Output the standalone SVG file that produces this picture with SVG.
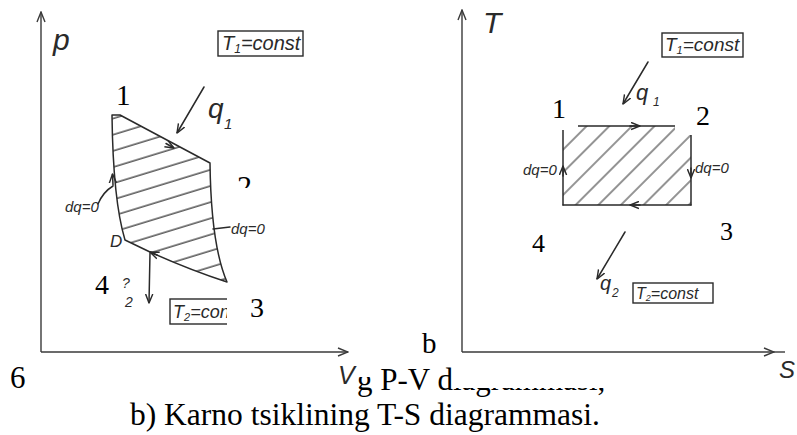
<svg xmlns="http://www.w3.org/2000/svg" width="797" height="435" viewBox="0 0 797 435">
<style>
.ln{fill:none;stroke:#2a2a2a;stroke-width:1.5;stroke-linecap:round;stroke-linejoin:round}
.ax{fill:none;stroke:#3a3a3a;stroke-width:1.4}
.hw{font-family:"Liberation Sans",Arial,sans-serif;font-style:italic;fill:#2a2a2a}
.tm{font-family:"Liberation Serif","Times New Roman",serif;fill:#000}
.box{fill:none;stroke:#2a2a2a;stroke-width:1.4}
.patch{fill:#fff;stroke:none}
</style>
<defs>
<marker id="ah" viewBox="0 0 10 10" refX="10" refY="5" markerWidth="9" markerHeight="9" markerUnits="userSpaceOnUse" orient="auto">
<path d="M0,1 L10,5 L0,9" fill="none" stroke="#2a2a2a" stroke-width="1.6"/>
</marker>
<marker id="axh" viewBox="0 0 10 10" refX="10" refY="5" markerWidth="12" markerHeight="10" markerUnits="userSpaceOnUse" orient="auto">
<path d="M0,1 L10,5 L0,9" fill="none" stroke="#3a3a3a" stroke-width="1.4"/>
</marker>
<pattern id="hatchL" patternUnits="userSpaceOnUse" width="60" height="15.5" patternTransform="rotate(-17)">
<line x1="0" y1="7" x2="60" y2="7" stroke="#2a2a2a" stroke-width="1.2"/>
</pattern>
<pattern id="hatchR" patternUnits="userSpaceOnUse" width="60" height="16" patternTransform="rotate(-45)">
<line x1="0" y1="8" x2="60" y2="8" stroke="#2a2a2a" stroke-width="1.2"/>
</pattern>
<clipPath id="cycL"><path d="M112,115 L120,115 L210,163 Q211,245 227,282 Q190,270 150,252 L125,240 Q113,200 112,115 Z"/></clipPath>
<clipPath id="clip2"><rect x="225" y="150" width="40" height="38"/></clipPath>
<clipPath id="clipT2"><rect x="165" y="290" width="62" height="40"/></clipPath>
</defs>
<rect width="797" height="435" fill="#fff"/>

<!-- LEFT PANEL: P-V -->
<g id="axes-pv">
<line class="ax" x1="41" y1="352" x2="41" y2="12" marker-end="url(#axh)"/>
<line class="ax" x1="41" y1="352" x2="348" y2="352" marker-end="url(#axh)"/>
<text class="hw" x="53" y="50" font-size="30">p</text>
<text class="hw" x="338" y="384" font-size="25">V</text>
</g>
<g id="cycle-pv">
<rect x="100" y="100" width="140" height="190" fill="url(#hatchL)" clip-path="url(#cycL)"/>
<path class="ln" d="M112,115 L120,115 L210,163 Q211,245 227,282 Q190,270 150,252 L125,240 Q113,200 112,115"/>
</g>
<g id="connectors-pv">
<path class="ln" d="M166,143.5 L174,148" marker-end="url(#ah)"/>
<path class="ln" d="M113,185 L112.5,174" marker-end="url(#ah)"/>
<path class="ln" d="M157,255 L150,252" marker-end="url(#ah)"/>
<line class="ln" x1="204" y1="87" x2="177" y2="133" marker-end="url(#ah)"/>
<line class="ln" x1="150" y1="253" x2="149" y2="303" marker-end="url(#ah)"/>
<path class="ln" d="M98,204 Q103,192 113,186"/>
<line class="ln" x1="213" y1="229" x2="230" y2="227"/>
</g>
<g id="box-T1-pv">
<rect class="box" x="218" y="31" width="85" height="25"/>
<text class="hw" x="222" y="50" font-size="20">T<tspan font-size="12" dy="3">1</tspan><tspan dy="-3">=const</tspan></text>
</g>
<g id="box-T2-pv" clip-path="url(#clipT2)">
<rect class="box" x="170" y="299" width="70" height="25"/>
<text class="hw" x="173" y="318" font-size="18">T<tspan font-size="11" dy="3">2</tspan><tspan dy="-3">=con</tspan></text>
</g>
<g id="labels-pv">
<text class="hw" x="208" y="118" font-size="28">q</text>
<text class="hw" x="224" y="129" font-size="15">1</text>
<text class="hw" x="65" y="212" font-size="15">dq=0</text>
<text class="hw" x="110" y="247" font-size="17">D</text>
<text class="hw" x="231" y="234" font-size="15">dq=0</text>
<text class="hw" x="122" y="288" font-size="14">?</text>
<text class="hw" x="125" y="307" font-size="14">2</text>
</g>
<g id="node-1-pv"><text class="tm" x="116" y="105" font-size="29">1</text></g>
<g id="node-2-pv" clip-path="url(#clip2)"><text class="tm" x="237" y="196" font-size="30">2</text></g>
<g id="node-4-pv"><text class="tm" x="95" y="294" font-size="28">4</text></g>
<g id="node-3-pv"><text class="tm" x="250" y="317" font-size="28">3</text></g>

<!-- RIGHT PANEL: T-S -->
<g id="axes-ts">
<line class="ax" x1="462" y1="352" x2="462" y2="10" marker-end="url(#axh)"/>
<line class="ax" x1="462" y1="352" x2="774" y2="352" marker-end="url(#axh)"/>
<line class="ax" x1="774" y1="352" x2="785" y2="352"/>
<text class="hw" x="483" y="33" font-size="30">T</text>
<text class="hw" x="779" y="378" font-size="24">S</text>
</g>
<g id="cycle-ts">
<rect x="563" y="126" width="128" height="79" fill="url(#hatchR)"/>
<line class="ln" x1="563" y1="126" x2="691" y2="126"/>
<line class="ln" x1="563" y1="126" x2="563" y2="205"/>
<line class="ln" x1="691" y1="126" x2="691" y2="205"/>
<line class="ln" x1="563" y1="205" x2="691" y2="205"/>
<rect class="patch" x="528" y="86" width="50" height="44"/>
<rect class="patch" x="675" y="86" width="50" height="49"/>
</g>
<g id="connectors-ts">
<path class="ln" d="M630,126 L640,126" marker-end="url(#ah)"/>
<path class="ln" d="M563,176 L563,166" marker-end="url(#ah)"/>
<path class="ln" d="M691,168 L691,178" marker-end="url(#ah)"/>
<path class="ln" d="M640,205 L630,205" marker-end="url(#ah)"/>
<line class="ln" x1="648" y1="62" x2="623" y2="104" marker-end="url(#ah)"/>
<line class="ln" x1="625" y1="232" x2="597" y2="279" marker-end="url(#ah)"/>
</g>
<g id="box-T1-ts">
<rect class="box" x="662" y="33" width="81" height="24"/>
<text class="hw" x="665" y="51" font-size="19">T<tspan font-size="11" dy="3">1</tspan><tspan dy="-3">=const</tspan></text>
</g>
<g id="box-T2-ts">
<rect class="box" x="633" y="283" width="80" height="20"/>
<text class="hw" x="636" y="299" font-size="16">T<tspan font-size="9" dy="2">2</tspan><tspan dy="-2">=const</tspan></text>
</g>
<g id="labels-ts">
<text class="hw" x="636" y="100" font-size="22">q</text>
<text class="hw" x="653" y="106" font-size="12">1</text>
<text class="hw" x="523" y="175" font-size="15">dq=0</text>
<text class="hw" x="695" y="173" font-size="15">dq=0</text>
<text class="hw" x="600" y="290" font-size="20">q</text>
<text class="hw" x="612" y="297" font-size="12">2</text>
</g>
<g id="node-1-ts"><text class="tm" x="552" y="118" font-size="28">1</text></g>
<g id="node-2-ts"><text class="tm" x="696" y="125" font-size="28">2</text></g>
<g id="node-4-ts"><text class="tm" x="532" y="252" font-size="26">4</text></g>
<g id="node-3-ts"><text class="tm" x="720" y="240" font-size="26">3</text></g>
<g id="label-b"><text class="tm" x="422" y="353" font-size="29">b</text></g>

<!-- CAPTION -->
<g id="caption">
<text class="tm" x="10" y="388" font-size="31">6</text>
<text class="tm" x="357" y="390" font-size="31">g P-V diagrammasi,</text>
<rect class="patch" x="452" y="355" width="170" height="33"/>
<rect class="patch" x="358" y="355" width="15" height="22"/>
<text class="tm" x="130" y="425" font-size="31.5">b) Karno tsiklining T-S diagrammasi.</text>
</g>
</svg>
